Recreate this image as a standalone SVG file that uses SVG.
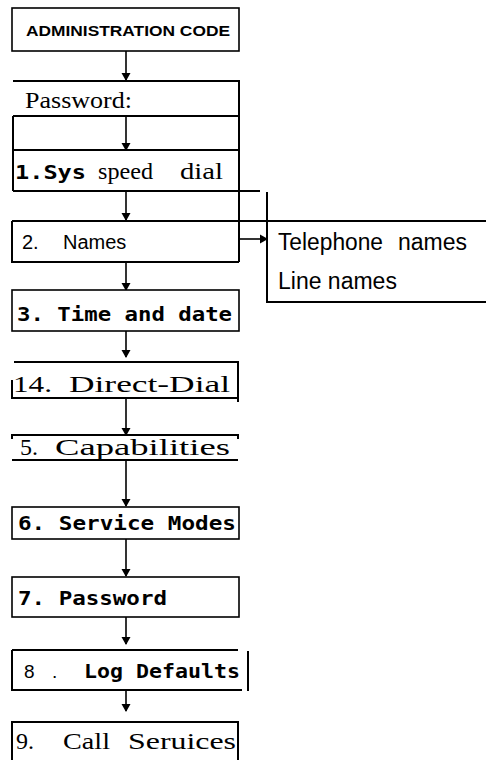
<svg xmlns="http://www.w3.org/2000/svg" width="486" height="760" viewBox="0 0 486 760">
<defs>
<marker id="ah" markerWidth="8" markerHeight="12" refX="7" refY="6" orient="auto" markerUnits="userSpaceOnUse">
<path d="M0,1.5 L8,6 L0,10.5 Z" fill="#000"/>
</marker>
<style>
.ln{stroke:#000;stroke-width:2;fill:none}
.bx{stroke:#000;stroke-width:1.6;fill:#fff}
.cn{stroke:#000;stroke-width:1.6;fill:none;marker-end:url(#ah)}
.sans{font-family:"Liberation Sans",Arial,sans-serif;fill:#000}
.serif{font-family:"Liberation Serif","Times New Roman",serif;fill:#000;font-size:24px}
.mono{font-family:"DejaVu Sans Mono","Liberation Mono",monospace;font-weight:bold;fill:#000}
</style>
</defs>
<rect width="486" height="760" fill="#fff"/>
<g id="connectors">
<line class="cn" x1="126" y1="51" x2="126" y2="80"/>
<line class="cn" x1="126" y1="116" x2="126" y2="150"/>
<line class="cn" x1="126" y1="191" x2="126" y2="220"/>
<line class="cn" x1="239" y1="239" x2="267" y2="239"/>
<line class="cn" x1="126" y1="262" x2="126" y2="290"/>
<line class="cn" x1="126" y1="331" x2="126" y2="357"/>
<line class="cn" x1="126" y1="398" x2="126" y2="435"/>
<line class="cn" x1="126" y1="459" x2="126" y2="506"/>
<line class="cn" x1="126" y1="539" x2="126" y2="576"/>
<line class="cn" x1="126" y1="617" x2="126" y2="644"/>
<line class="cn" x1="126" y1="690" x2="126" y2="711"/>
</g>
<g id="n-admin">
<rect class="bx" x="12" y="8" width="227" height="43"/>
<text class="sans" x="26" y="36" font-size="15" font-weight="bold" textLength="204" lengthAdjust="spacingAndGlyphs">ADMINISTRATION CODE</text>
</g>
<g id="n-password">
<path class="ln" d="M13,81 H239 V191 M13,116 H239 M13,116 V191 M13,150 H239 M13,191 H260"/>
<text class="serif" x="25" y="108" font-size="22" textLength="107" lengthAdjust="spacingAndGlyphs">Password:</text>
</g>
<g id="n-sys">
<text class="mono" x="15" y="179" font-size="19" textLength="71" lengthAdjust="spacingAndGlyphs">1.Sys</text>
<text class="serif" x="98" y="179" textLength="55" lengthAdjust="spacingAndGlyphs">speed</text>
<text class="serif" x="180" y="179" textLength="43" lengthAdjust="spacingAndGlyphs">dial</text>
</g>
<g id="n-names">
<path class="ln" d="M12,221 H486 M12,221 V262 H239 M239,191 V262"/>
<text class="sans" x="22" y="249" font-size="20">2.</text>
<text class="sans" x="63" y="249" font-size="20">Names</text>
</g>
<g id="n-sub">
<path class="ln" d="M267,192 V302 H486"/>
<text class="sans" x="278" y="250" font-size="23" textLength="105" lengthAdjust="spacingAndGlyphs">Telephone</text>
<text class="sans" x="398" y="250" font-size="23" textLength="69" lengthAdjust="spacingAndGlyphs">names</text>
<text class="sans" x="278" y="289" font-size="23">Line names</text>
</g>
<g id="n-time">
<rect class="bx" x="12" y="290" width="227" height="41"/>
<text class="mono" x="17" y="321" font-size="20" textLength="215" lengthAdjust="spacingAndGlyphs">3. Time and date</text>
</g>
<g id="n-direct">
<path class="ln" d="M14,362 H238 V402 M12,380 V398 H238"/>
<text class="serif" x="13" y="392" textLength="39" lengthAdjust="spacingAndGlyphs">14.</text>
<text class="serif" x="69" y="392" textLength="161" lengthAdjust="spacingAndGlyphs">Direct-Dial</text>
</g>
<g id="n-cap">
<path class="ln" d="M12,439 V435 H238 V439 M12,460 H238"/>
<text class="serif" x="20" y="455">5.</text>
<text class="serif" x="55" y="455" textLength="175" lengthAdjust="spacingAndGlyphs">Capabilities</text>
</g>
<g id="n-service">
<rect class="bx" x="12" y="507" width="227" height="32"/>
<text class="mono" x="18" y="530" font-size="19" textLength="218" lengthAdjust="spacingAndGlyphs">6. Service Modes</text>
</g>
<g id="n-pw7">
<rect class="bx" x="12" y="577" width="227" height="40"/>
<text class="mono" x="18" y="605" font-size="19" textLength="149" lengthAdjust="spacingAndGlyphs">7. Password</text>
</g>
<g id="n-log">
<path class="ln" d="M12,650 H238 M12,650 V690 H242 M248,651 V691"/>
<text class="sans" x="24" y="678" font-size="19">8</text>
<text class="sans" x="52" y="678" font-size="19">.</text>
<text class="mono" x="84" y="678" font-size="19" textLength="156" lengthAdjust="spacingAndGlyphs">Log Defaults</text>
</g>
<g id="n-call">
<path class="ln" d="M12,760 V722 H238 V760"/>
<text class="serif" x="16" y="749">9.</text>
<text class="serif" x="63" y="749" textLength="47" lengthAdjust="spacingAndGlyphs">Call</text>
<text class="serif" x="128" y="749" textLength="108" lengthAdjust="spacingAndGlyphs">Seruices</text>
</g>
</svg>
